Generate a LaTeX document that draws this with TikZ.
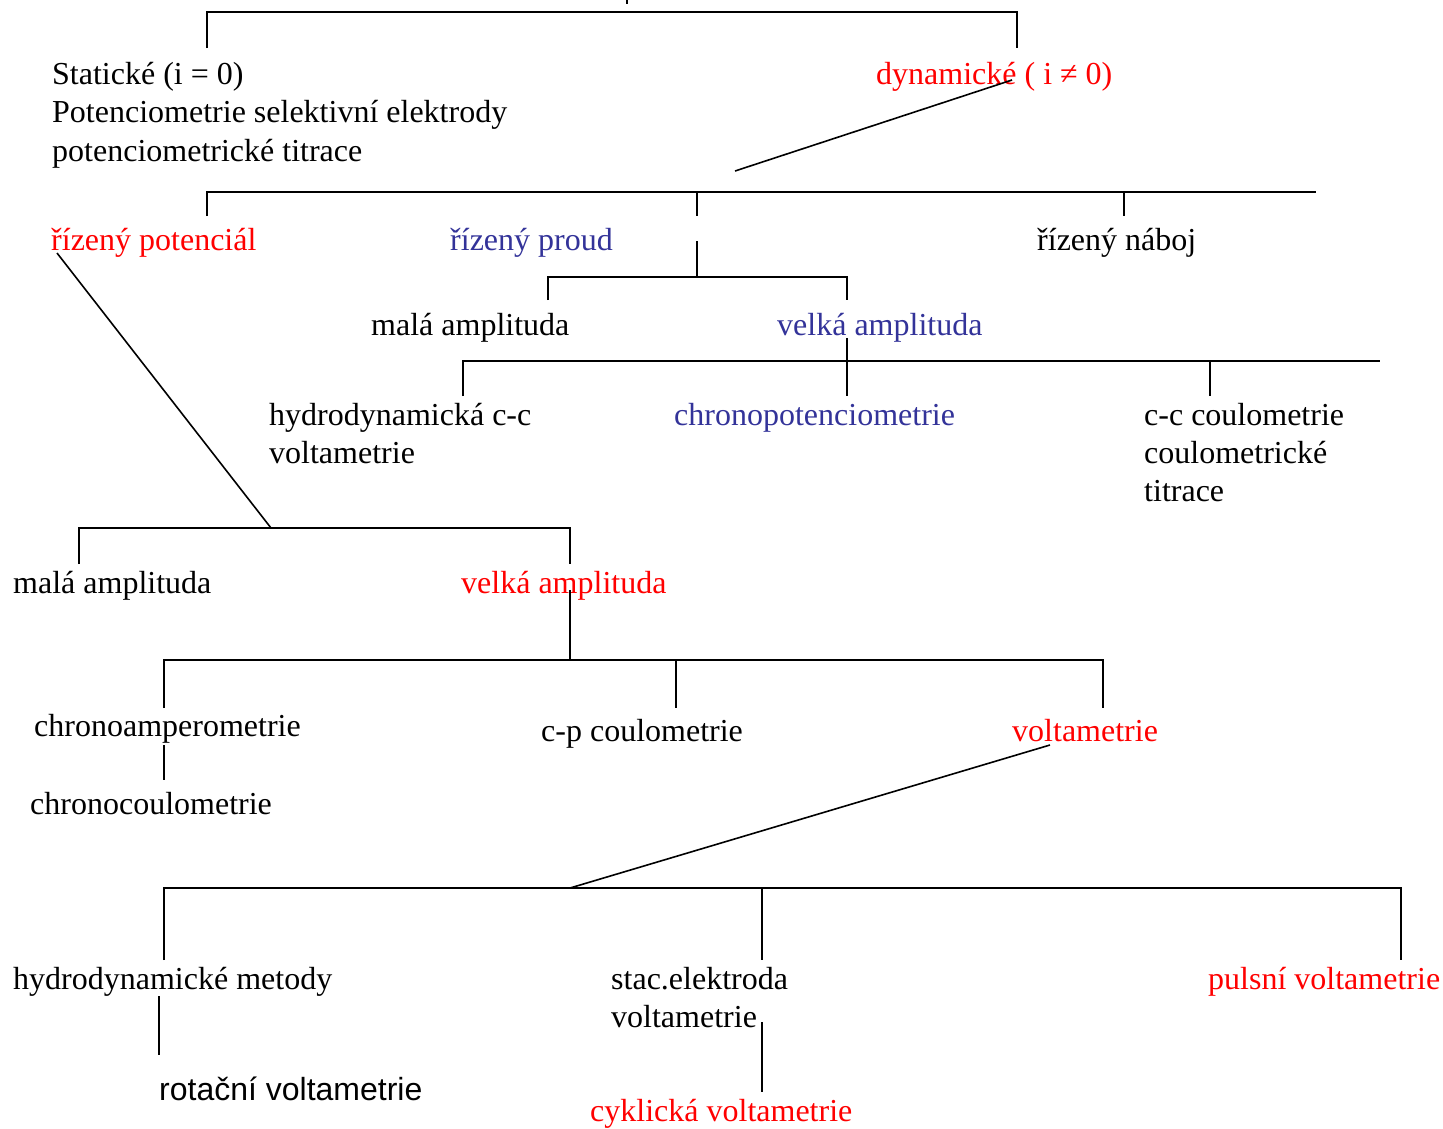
\documentclass[tikz,border=0pt]{standalone}
\usepackage{fontspec}
\setmainfont{Liberation Serif}
\newfontfamily\arialfont{Liberation Sans}
\definecolor{pptred}{RGB}{255,0,0}
\definecolor{pptblue}{RGB}{51,51,153}
\begin{document}
\begin{tikzpicture}[x=1pt,y=-1pt,
  lbl/.style={anchor=base west,inner sep=0pt,font=\fontsize{32}{38.5}\selectfont},
  rlbl/.style={lbl,text=pptred},
  blbl/.style={lbl,text=pptblue},
  conn/.style={draw=black,line width=1.8pt},
  diag/.style={draw=black,line width=1.6pt}]
\useasboundingbox (0,0) rectangle (1443,1128);

% ---------- text ----------
\node[lbl]  (stat1) at (52,84)    {Statické (i = 0)};
\node[lbl]  (stat2) at (52,122.5) {Potenciometrie selektivní elektrody};
\node[lbl]  (stat3) at (52,161)   {potenciometrické titrace};
\node[rlbl] (dyn)   at (876,84)   {dynamické ( i ≠ 0)};

\node[rlbl] (rpot)  at (51,250)   {řízený potenciál};
\node[blbl] (rpro)  at (450,250)  {řízený proud};
\node[lbl]  (rnab)  at (1037,250) {řízený náboj};

\node[lbl]  (mala1) at (371,335)  {malá amplituda};
\node[blbl] (velk1) at (777,335)  {velká amplituda};

\node[lbl]  (hyd1)  at (269,425)  {hydrodynamická c-c};
\node[lbl]  (hyd2)  at (269,463)  {voltametrie};
\node[blbl] (chpot) at (674,425)  {chronopotenciometrie};
\node[lbl]  (cc1)   at (1144,425) {c-c coulometrie};
\node[lbl]  (cc2)   at (1144,463) {coulometrické};
\node[lbl]  (cc3)   at (1144,501) {titrace};

\node[lbl]  (mala2) at (13,593)   {malá amplituda};
\node[rlbl] (velk2) at (461,593)  {velká amplituda};

\node[lbl]  (champ) at (34,736)   {chronoamperometrie};
\node[lbl]  (cpc)   at (541,741)  {c-p coulometrie};
\node[rlbl] (volt)  at (1012,741) {voltametrie};
\node[lbl]  (chcou) at (30,814)   {chronocoulometrie};

\node[lbl]  (hdm)   at (13,989)   {hydrodynamické metody};
\node[lbl]  (stac1) at (611,989)  {stac.elektroda};
\node[lbl]  (stac2) at (611,1027) {voltametrie};
\node[rlbl] (puls)  at (1208,989) {pulsní voltametrie};
\node[lbl,font=\arialfont\fontsize{32}{38.5}\selectfont] (rot) at (159,1100) {rotační voltametrie};
\node[rlbl] (cykl)  at (590,1121) {cyklická voltametrie};

% ---------- connector points ----------
\coordinate (rootA) at (627,0);   \coordinate (rootB) at (627,4);
\coordinate (sAt) at (207,12);    \coordinate (sA) at (207,48);
\coordinate (dAt) at (1017,12);   \coordinate (dA) at (1017,48);
\coordinate (dynS) at (1012,80);  \coordinate (dynE) at (735,171);

\coordinate (bL) at (207,192);    \coordinate (bR) at (1316,192);
\coordinate (bpot) at (207,216);
\coordinate (bprT) at (697,192);  \coordinate (bpr) at (697,216);
\coordinate (bnT) at (1124,192);  \coordinate (bn) at (1124,216);

\coordinate (prS) at (697,241);   \coordinate (prJ) at (697,277);
\coordinate (maT) at (548,277);   \coordinate (ma) at (548,300);
\coordinate (vaT) at (847,277);   \coordinate (va) at (847,300);

\coordinate (vaS) at (847,338);   \coordinate (vaE) at (847,396);
\coordinate (c1L) at (463,361);   \coordinate (c1R) at (1380,361);
\coordinate (hy) at (463,396);
\coordinate (ccT) at (1210,361);  \coordinate (cc) at (1210,396);

\coordinate (potS) at (57,253);   \coordinate (potE) at (271,528);
\coordinate (m2T) at (79,528);    \coordinate (m2) at (79,564);
\coordinate (v2T) at (570,528);   \coordinate (v2) at (570,564);

\coordinate (v2S) at (570,590);   \coordinate (v2J) at (570,660);
\coordinate (chT) at (164,660);   \coordinate (ch) at (164,708);
\coordinate (cpT) at (676,660);   \coordinate (cp) at (676,708);
\coordinate (voT) at (1103,660);  \coordinate (vo) at (1103,708);

\coordinate (chS) at (164,745);   \coordinate (chE) at (164,780);
\coordinate (voS) at (1050,745);  \coordinate (voE) at (570,888);

\coordinate (hdT) at (164,888);   \coordinate (hd) at (164,960);
\coordinate (stT) at (762,888);   \coordinate (st) at (762,960);
\coordinate (puT) at (1401,888);  \coordinate (pu) at (1401,960);

\coordinate (hdS) at (159,996);   \coordinate (hdE) at (159,1055);
\coordinate (stS) at (762,1022);  \coordinate (stE) at (762,1092);

% ---------- connectors ----------
\draw[conn] (rootA) -- (rootB);
\draw[conn] (sA) -- (sAt) -- (dAt) -- (dA);
\draw[diag] (dynS) -- (dynE);

\draw[conn] (bpot) -- (bL) -- (bR);
\draw[conn] (bprT) -- (bpr);
\draw[conn] (bnT) -- (bn);

\draw[conn] (prS) -- (prJ);
\draw[conn] (ma) -- (maT) -- (vaT) -- (va);

\draw[conn] (vaS) -- (vaE);
\draw[conn] (hy) -- (c1L) -- (c1R);
\draw[conn] (ccT) -- (cc);

\draw[diag] (potS) -- (potE);
\draw[conn] (m2) -- (m2T) -- (v2T) -- (v2);

\draw[conn] (v2S) -- (v2J);
\draw[conn] (ch) -- (chT) -- (voT) -- (vo);
\draw[conn] (cpT) -- (cp);

\draw[conn] (chS) -- (chE);
\draw[diag] (voS) -- (voE);

\draw[conn] (hd) -- (hdT) -- (puT) -- (pu);
\draw[conn] (stT) -- (st);

\draw[conn] (hdS) -- (hdE);
\draw[conn] (stS) -- (stE);
\end{tikzpicture}
\end{document}
